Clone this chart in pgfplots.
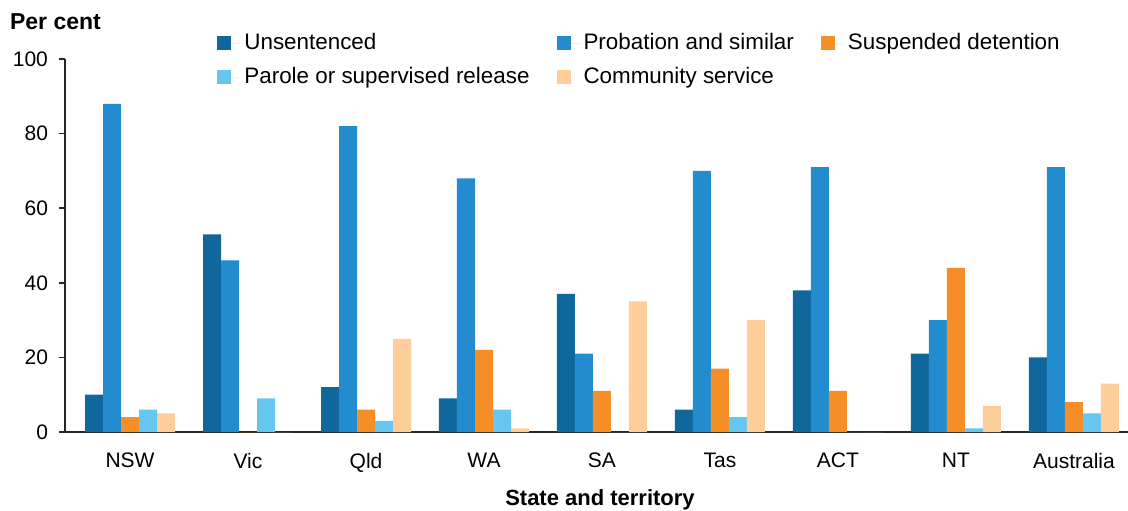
\documentclass[border=0pt]{standalone}
\usepackage{pgfplots}
\pgfplotsset{compat=1.18}
\usepackage{fontspec}
\setmainfont{Liberation Sans}
\definecolor{cUns}{HTML}{10679B}
\definecolor{cProb}{HTML}{228CCE}
\definecolor{cSusp}{HTML}{F58E26}
\definecolor{cPar}{HTML}{66C6F0}
\definecolor{cCom}{HTML}{FDCD9A}
\begin{document}
\begin{tikzpicture}
\path[use as bounding box] (-32.5pt,-39pt) rectangle (531.5pt,216pt);
\begin{axis}[
  scale only axis,
  width=531.5pt, height=186.5pt,
  xmin=-0.551, xmax=8.458,
  ymin=0, ymax=100,
  ybar=0pt, bar width=9pt,
  axis lines*=left,
  axis line style={line width=1pt, black!85},
  xtick=data,
  xticklabels={NSW,Vic,Qld,WA,SA,Tas,ACT,NT,Australia},
  x tick style={draw=none},
  ytick={0,20,40,60,80,100},
  y tick style={line width=0.8pt, black!85},
  tick align=outside,
  major tick length=3pt,
  tick label style={font=\fontsize{10.5}{12}\selectfont},
  /pgf/number format/assume math mode=true,
  xticklabel style={yshift=-4pt},
  yticklabel style={xshift=-2pt},
  legend columns=3,
  legend cell align=left,
  legend style={at={(0.143,1.08)}, anchor=north west, draw=none, fill=none,
    inner sep=0pt, font=\fontsize{11.2}{13}\selectfont,
    /tikz/every even column/.append style={column sep=11.5pt},
    row sep=3.3pt},
  legend image code/.code={\fill[#1] (0pt,-3.5pt) rectangle (7pt,3.5pt); \path (7pt,0pt) -- (11.5pt,0pt);},
  clip=false,
]
\addplot[fill=cUns, draw=none] coordinates {(0,10) (1,53) (2,12) (3,9) (4,37) (5,6) (6,38) (7,21) (8,20)};
\addplot[fill=cProb, draw=none] coordinates {(0,88) (1,46) (2,82) (3,68) (4,21) (5,70) (6,71) (7,30) (8,71)};
\addplot[fill=cSusp, draw=none] coordinates {(0,4) (1,0) (2,6) (3,22) (4,11) (5,17) (6,11) (7,44) (8,8)};
\addplot[fill=cPar, draw=none] coordinates {(0,6) (1,9) (2,3) (3,6) (4,0) (5,4) (6,0) (7,1) (8,5)};
\addplot[fill=cCom, draw=none] coordinates {(0,5) (1,0) (2,25) (3,1) (4,35) (5,30) (6,0) (7,7) (8,13)};
\legend{Unsentenced, Probation and similar, Suspended detention, Parole or supervised release, Community service}
\end{axis}
\node[anchor=west, font=\bfseries\fontsize{11.5}{13}\selectfont] at (-31pt,205pt) {Per cent};
\node[font=\bfseries\fontsize{11}{13}\selectfont] at (267.5pt,-34pt) {State and territory};
\end{tikzpicture}
\end{document}
